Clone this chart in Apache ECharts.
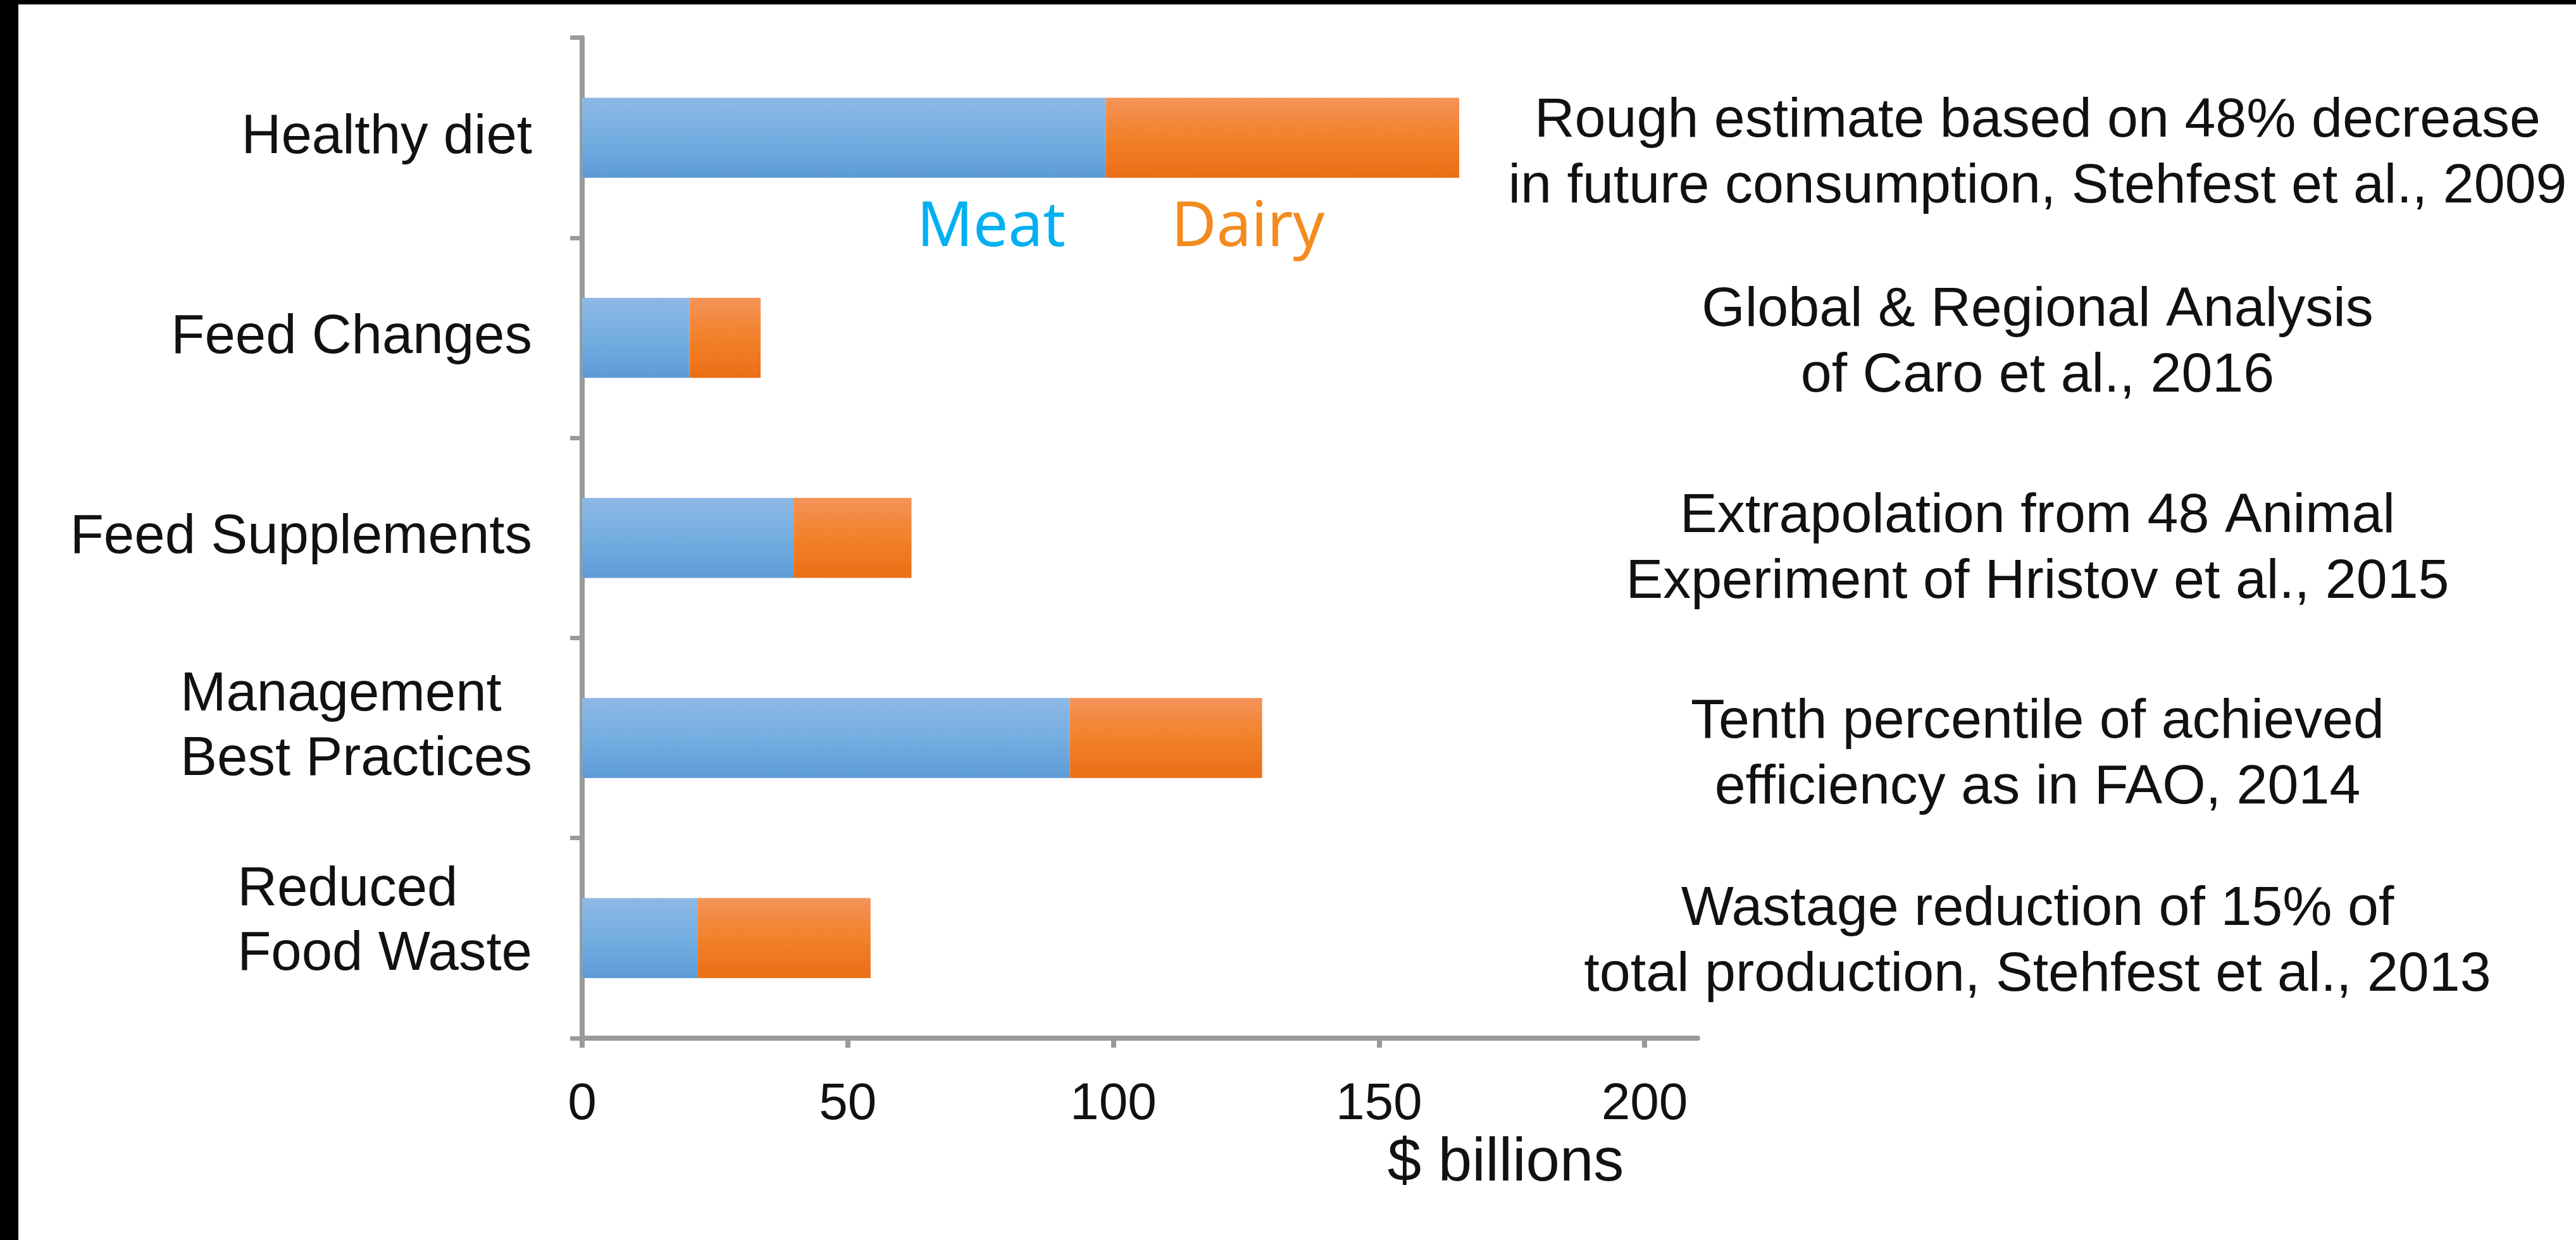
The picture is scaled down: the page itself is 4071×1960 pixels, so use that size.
<!DOCTYPE html>
<html>
<head>
<meta charset="utf-8">
<script src="https://cdn.jsdelivr.net/npm/echarts@6/dist/echarts.min.js"></script>
<style>
  html, body { margin: 0; padding: 0; background: #000; width: 4071px; height: 1960px; overflow: hidden; }
  #chart { position: absolute; left: 29px; top: 7px; width: 4042px; height: 1953px; background: #fff; }
</style>
</head>
<body>
<div id="chart"></div>
<script>
// Mitigation options (top to bottom) and their value split, $ billions
const categories = ['Healthy diet', 'Feed Changes', 'Feed Supplements', 'Management\nBest Practices', 'Reduced\nFood Waste'];
const meat  = [98.6, 20.2, 39.8, 91.8, 21.7];
const dairy = [66.5, 13.4, 22.2, 36.2, 32.6];
const sources = [
  'Rough estimate based on 48% decrease\nin future consumption, Stehfest et al., 2009',
  'Global & Regional Analysis\nof Caro et al., 2016',
  'Extrapolation from 48 Animal\nExperiment of Hristov et al., 2015',
  'Tenth percentile of achieved\nefficiency as in FAO, 2014',
  'Wastage reduction of 15% of\ntotal production, Stehfest et al., 2013'
];
const xTicks = [0, 50, 100, 150, 200];

// Small vertical nudges (px) for the text blocks: negative lifts, positive lowers
const categoryNudge = [0, 0, 0, -17, -25];
const sourceNudge = [26, 9, 18, 27, 7];

const AXIS = '#999b99';
const TEXT = '#111111';
const SANS = '"Liberation Sans", Arial, Helvetica, sans-serif';

function vgrad(stops) {
  return new echarts.graphic.LinearGradient(0, 0, 0, 1,
    stops.map((c, i) => ({ offset: i / (stops.length - 1), color: c })));
}

// Builds rich text whose block is moved by an invisible spacer line
function nudged(lines, key, nudge, i) {
  let body = lines.map(t => '{' + key + '|' + t + '}').join('\n');
  if (nudge > 0) body = '{g' + i + '| }\n' + body;
  if (nudge < 0) body = body + '\n{g' + i + '| }';
  return body;
}
function spacerStyles(nudges) {
  const r = {};
  nudges.forEach((n, i) => { r['g' + i] = { fontSize: 1, lineHeight: Math.max(1, Math.abs(n) * 2) }; });
  return r;
}

const chart = echarts.init(document.getElementById('chart'), null, { renderer: 'canvas' });

chart.setOption({
  animation: false,
  backgroundColor: '#ffffff',
  grid: { left: 891, right: 1388, top: 52.5, bottom: 319, containLabel: false, outerBoundsMode: 'none' },
  legend: [
    {
      left: 1415, top: 294, padding: 0, itemWidth: 0, itemHeight: 0, selectedMode: false,
      data: [{ name: 'Meat', textStyle: { color: '#00b0f0' } }],
      textStyle: { fontFamily: '"Noto Sans", sans-serif', fontSize: 98, lineHeight: 120 }
    },
    {
      left: 1817, top: 294, padding: 0, itemWidth: 0, itemHeight: 0, selectedMode: false,
      data: [{ name: 'Dairy', textStyle: { color: '#f38b1f' } }],
      textStyle: { fontFamily: '"Noto Sans", sans-serif', fontSize: 98, lineHeight: 120 }
    }
  ],
  xAxis: {
    type: 'value',
    min: 0,
    max: 210,
    interval: 50,
    splitLine: { show: false },
    axisLine: { show: true, lineStyle: { color: AXIS, width: 8 } },
    axisTick: { show: true, length: 15, lineStyle: { color: AXIS, width: 8 }, customValues: xTicks },
    axisLabel: { color: TEXT, fontFamily: SANS, fontSize: 82, margin: 64, customValues: xTicks },
    name: '$ billions',
    nameLocation: 'middle',
    nameGap: 136,
    nameTextStyle: { color: TEXT, fontFamily: SANS, fontSize: 96, padding: [0, 0, 0, 1156] }
  },
  yAxis: [
    {
      type: 'category',
      data: categories,
      inverse: true,
      axisLine: { show: true, lineStyle: { color: AXIS, width: 8 } },
      axisTick: { show: true, length: 19, lineStyle: { color: AXIS, width: 7 } },
      axisLabel: {
        margin: 79,
        formatter: (v, i) => nudged(v.split('\n'), 'l', categoryNudge[i], i),
        rich: Object.assign({
          l: { align: 'left', color: TEXT, fontFamily: SANS, fontSize: 87, lineHeight: 102 }
        }, spacerStyles(categoryNudge))
      }
    },
    {
      type: 'category',
      data: categories,
      inverse: true,
      position: 'right',
      axisLine: { show: false },
      axisTick: { show: false },
      axisLabel: {
        margin: 537,
        align: 'center',
        formatter: (v, i) => nudged(sources[i].split('\n'), 's', sourceNudge[i], i),
        rich: Object.assign({
          s: { color: TEXT, fontFamily: SANS, fontSize: 88, lineHeight: 104 }
        }, spacerStyles(sourceNudge))
      }
    }
  ],
  series: [
    {
      name: 'Meat',
      type: 'bar',
      stack: 'total',
      barWidth: '40%',
      data: meat,
      itemStyle: { color: vgrad(['#8eb8e5', '#74aee1', '#5d9bd6']) }
    },
    {
      name: 'Dairy',
      type: 'bar',
      stack: 'total',
      barWidth: '40%',
      data: dairy,
      itemStyle: { color: vgrad(['#f4935a', '#f28129', '#eb6e16']) }
    }
  ]
});
</script>
</body>
</html>
